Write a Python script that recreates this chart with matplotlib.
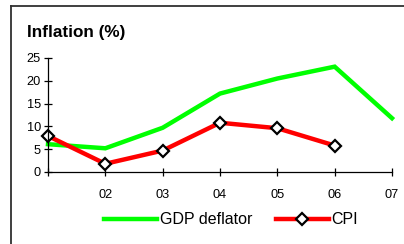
import matplotlib.pyplot as plt
from matplotlib.lines import Line2D

plt.rcParams["font.family"] = ["Liberation Sans", "DejaVu Sans"]

# Data
years = [2001, 2002, 2003, 2004, 2005, 2006, 2007]
tick_labels = ["", "02", "03", "04", "05", "06", "07"]
gdp_deflator = [6.1, 5.2, 9.7, 17.2, 20.5, 23.1, 11.8]
cpi_years = [2001, 2002, 2003, 2004, 2005, 2006]
cpi = [7.9, 1.8, 4.7, 10.8, 9.6, 5.8]

COLOR_GDP = "#00ff00"
COLOR_CPI = "#ff0000"
COLOR_FRAME = "#303030"

fig = plt.figure(figsize=(4.04, 2.44), dpi=100)
ax = fig.add_axes([48 / 404, 1 - 172 / 244, (392 - 48) / 404, (172 - 58) / 244])

ax.plot(years, gdp_deflator, color=COLOR_GDP, linewidth=3.2, solid_joinstyle="miter",
        label="GDP deflator", clip_on=False)
ax.plot(cpi_years, cpi, color=COLOR_CPI, linewidth=3.2, marker="D", markersize=6.5,
        markerfacecolor="white", markeredgecolor="black", markeredgewidth=1.6,
        label="CPI", clip_on=False)

ax.set_xlim(2001, 2007)
ax.set_ylim(0, 25)
ax.set_xticks(years)
ax.set_xticklabels(tick_labels)
ax.set_yticks([0, 5, 10, 15, 20, 25])
ax.tick_params(axis="both", direction="inout", length=6, width=0.9, labelsize=9.2,
               colors="black")
ax.tick_params(axis="x", pad=9)
ax.tick_params(axis="y", pad=2)
for side in ["top", "right"]:
    ax.spines[side].set_visible(False)
for side in ["left", "bottom"]:
    ax.spines[side].set_linewidth(0.9)

fig.text(27 / 404, 1 - 32 / 244, "Inflation (%)", fontsize=12.3, fontweight="bold",
         va="center", ha="left")

# Outer frame (only left and top edges are visible in the crop)
fig.add_artist(Line2D([11 / 404, 11 / 404], [0, 1 - 6 / 244], transform=fig.transFigure,
                      color=COLOR_FRAME, linewidth=1.3))
fig.add_artist(Line2D([11 / 404, 1], [1 - 6 / 244, 1 - 6 / 244], transform=fig.transFigure,
                      color=COLOR_FRAME, linewidth=1.3))

handles, labels = ax.get_legend_handles_labels()
fig.legend(handles, labels, loc="center", bbox_to_anchor=(231 / 404, 1 - 220 / 244),
           ncol=2, frameon=False, fontsize=11.5, handlelength=3.3, handletextpad=0.15,
           columnspacing=1.5, borderpad=0)

fig.savefig("out.png", dpi=100)
